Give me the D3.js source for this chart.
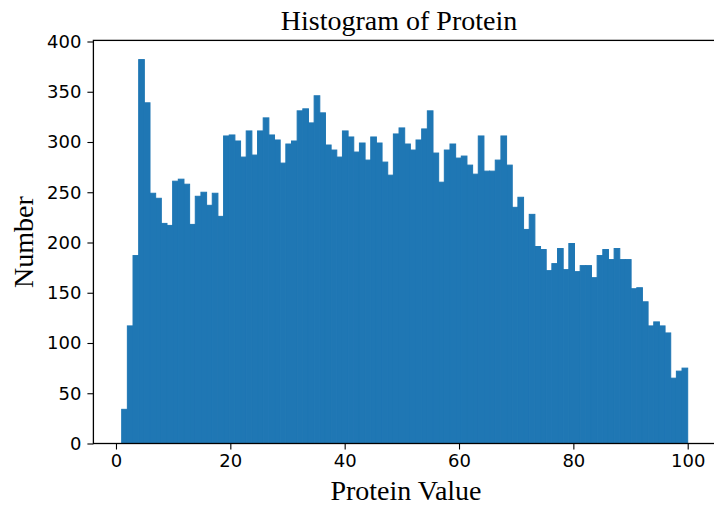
<!DOCTYPE html>
<html>
<head>
<meta charset="utf-8">
<script src="https://cdn.jsdelivr.net/npm/d3@7"></script>
<style>
  html, body { margin: 0; padding: 0; background: #fff; }
  svg { display: block; }
</style>
</head>
<body>
<svg id="chart" width="714" height="510"></svg>
<script>
// ---- data ----
const binStart = 1;
const binEnd = 100;
const counts = [
  34, 117, 187, 382, 339, 249, 244, 219, 217, 261,
  263, 258, 218, 246, 250, 237, 249, 226, 306, 307,
  301, 285, 311, 287, 311, 324, 307, 302, 279, 298,
  301, 331, 333, 319, 346, 329, 297, 292, 285, 311,
  305, 290, 299, 282, 305, 299, 280, 267, 308, 314,
  298, 292, 302, 313, 331, 289, 260, 292, 298, 284,
  286, 277, 268, 306, 271, 271, 282, 306, 277, 235,
  245, 213, 228, 196, 193, 172, 179, 194, 173, 199,
  171, 177, 177, 165, 187, 193, 183, 194, 183, 183,
  154, 155, 141, 117, 121, 117, 110, 65, 72, 75
];
const xTicks = [0, 20, 40, 60, 80, 100];
const yTicks = [0, 50, 100, 150, 200, 250, 300, 350, 400];
const titleText = "Histogram of Protein";
const xLabel = "Protein Value";
const yLabel = "Number";

// ---- layout ----
const svg = d3.select("#chart");
const binW = (binEnd - binStart) / counts.length;
const bins = counts.map((c, i) => ({ x0: binStart + i * binW, x1: binStart + (i + 1) * binW, n: c }));
const pad = (binEnd - binStart) * 0.05;
const x = d3.scaleLinear().domain([binStart - pad, binEnd + pad]).range([93.4, 716]);
const yMax = d3.max(counts) * 1.05;
const y = d3.scaleLinear().domain([0, yMax]).range([443.5, 443.5 - yMax * 1.005]);

const color = "#1f77b4";

svg.append("g").selectAll("rect").data(bins).join("rect")
  .attr("x", d => x(d.x0))
  .attr("width", d => x(d.x1) - x(d.x0))
  .attr("y", d => y(d.n))
  .attr("height", d => y(0) - y(d.n))
  .attr("fill", color)
  .attr("stroke", color)
  .attr("stroke-width", 1);

// axes
const xAxis = d3.axisBottom(x).tickValues(xTicks).tickSize(6).tickPadding(5).tickSizeOuter(0);
const yAxis = d3.axisLeft(y).tickValues(yTicks).tickSize(6).tickPadding(6).tickSizeOuter(0);

const gx = svg.append("g").attr("transform", `translate(0,${y(0)})`).call(xAxis);
const gy = svg.append("g").attr("transform", `translate(${x.range()[0]},0)`).call(yAxis);
[gx, gy].forEach(g => {
  g.select(".domain").remove();
  g.selectAll(".tick line").attr("stroke", "#000").attr("stroke-width", 1.1);
  g.selectAll(".tick text").attr("fill", "#000")
    .style("font-family", "'DejaVu Sans', sans-serif").style("font-size", "18px");
});

// spines
const [xl, xr] = x.range();
const [yb, yt] = y.range();
svg.append("rect")
  .attr("x", xl).attr("y", yt).attr("width", xr - xl).attr("height", yb - yt)
  .attr("fill", "none").attr("stroke", "#000").attr("stroke-width", 1.3);

// title & labels
const serif = "'Liberation Serif', 'Times New Roman', serif";
svg.append("text").attr("x", 399).attr("y", 30).attr("text-anchor", "middle")
  .style("font-family", serif).style("font-size", "28px").text(titleText);
svg.append("text").attr("x", 406).attr("y", 500).attr("text-anchor", "middle")
  .style("font-family", serif).style("font-size", "28px").text(xLabel);
svg.append("text").attr("transform", "translate(33,242) rotate(-90)").attr("text-anchor", "middle")
  .style("font-family", serif).style("font-size", "28px").text(yLabel);
</script>
</body>
</html>
